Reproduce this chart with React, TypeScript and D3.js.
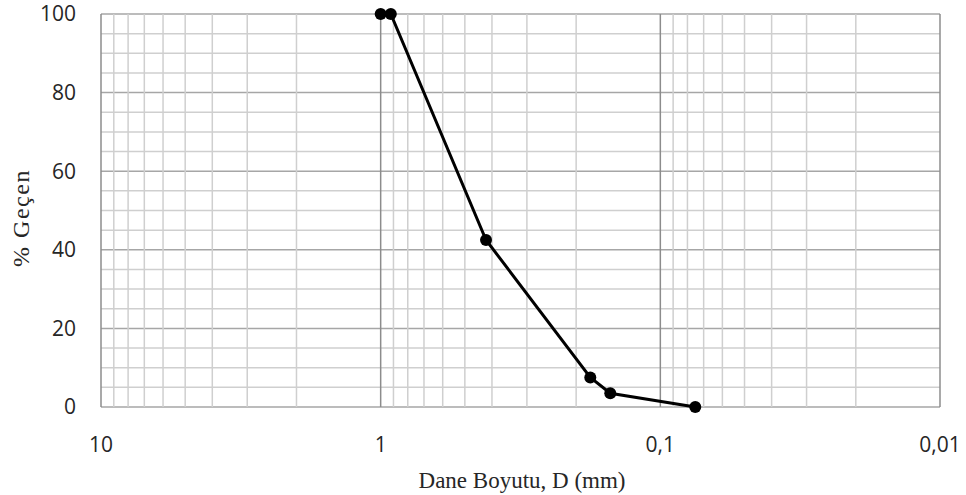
import React, { useRef, useEffect } from 'react';
import * as d3 from 'd3';

const sizes = [1.0, 0.92, 0.42, 0.178, 0.151, 0.075];
const passing = [100, 100, 42.5, 7.5, 3.5, 0];
const xTicks = [10, 1, 0.1, 0.01];
const xTickLabels = ['10', '1', '0,1', '0,01'];
const yTicks = [0, 20, 40, 60, 80, 100];

const App = () => {
  const ref = useRef<SVGSVGElement>(null);

  useEffect(() => {
    const svg = d3.select(ref.current);
    svg.selectAll('*').remove();

    const left = 101, right = 940, top = 14, bottom = 407;

    const x = d3.scaleLog().domain([10, 0.01]).range([left, right]);
    const y = d3.scaleLinear().domain([0, 100]).range([bottom, top]);

    const grid = svg.append('g');

    // horizontal grid: every 5, darker every 20
    d3.range(0, 101, 5).forEach(v => {
      grid.append('line')
        .attr('x1', left).attr('x2', right)
        .attr('y1', y(v)).attr('y2', y(v))
        .attr('stroke', v % 20 === 0 ? '#a6a6a6' : '#cfcfcf')
        .attr('stroke-width', 1.5);
    });

    // vertical grid: minor 2..9 per decade, darker decade lines
    const minors: number[] = [];
    [0.01, 0.1, 1].forEach(d => {
      for (let k = 2; k <= 9; k++) minors.push(d * k);
    });
    minors.forEach(v => {
      grid.append('line')
        .attr('x1', x(v)).attr('x2', x(v))
        .attr('y1', top).attr('y2', bottom)
        .attr('stroke', '#cfcfcf')
        .attr('stroke-width', 1.5);
    });
    xTicks.forEach(v => {
      grid.append('line')
        .attr('x1', x(v)).attr('x2', x(v))
        .attr('y1', top).attr('y2', bottom)
        .attr('stroke', '#8c8c8c')
        .attr('stroke-width', 1.5);
    });

    // y tick labels
    svg.append('g').selectAll('text')
      .data(yTicks)
      .enter().append('text')
      .attr('x', 76)
      .attr('y', d => y(d))
      .attr('dy', '0.35em')
      .attr('text-anchor', 'end')
      .attr('font-family', 'Open Sans, sans-serif')
      .attr('font-size', 21)
      .attr('fill', '#262626')
      .text(d => d);

    // x tick labels
    svg.append('g').selectAll('text')
      .data(xTicks)
      .enter().append('text')
      .attr('x', d => x(d))
      .attr('y', 452)
      .attr('text-anchor', 'middle')
      .attr('font-family', 'Open Sans, sans-serif')
      .attr('font-size', 21)
      .attr('fill', '#262626')
      .text((d, i) => xTickLabels[i]);

    // axis titles
    svg.append('text')
      .attr('x', 522)
      .attr('y', 488)
      .attr('text-anchor', 'middle')
      .attr('font-family', 'Liberation Serif, serif')
      .attr('font-size', 23)
      .attr('fill', '#262626')
      .text('Dane Boyutu, D (mm)');

    svg.append('text')
      .attr('transform', `translate(29, 218) rotate(-90)`)
      .attr('text-anchor', 'middle')
      .attr('font-family', 'Liberation Serif, serif')
      .attr('font-size', 24)
      .attr('letter-spacing', 1.5)
      .attr('fill', '#262626')
      .text('% Geçen');

    const pts = sizes.map((s, i) => [s, passing[i]] as [number, number]);

    const line = d3.line<[number, number]>()
      .x(d => x(d[0]))
      .y(d => y(d[1]));

    svg.append('path')
      .datum(pts)
      .attr('d', line)
      .attr('fill', 'none')
      .attr('stroke', '#000')
      .attr('stroke-width', 3);

    svg.append('g').selectAll('circle')
      .data(pts)
      .enter().append('circle')
      .attr('cx', d => x(d[0]))
      .attr('cy', d => y(d[1]))
      .attr('r', 6)
      .attr('fill', '#000');
  }, []);

  return (
    <svg ref={ref} width="966" height="495"
      style={{ position: 'absolute', left: 0, top: 0, background: '#fff' }}></svg>
  );
};

export default App;
